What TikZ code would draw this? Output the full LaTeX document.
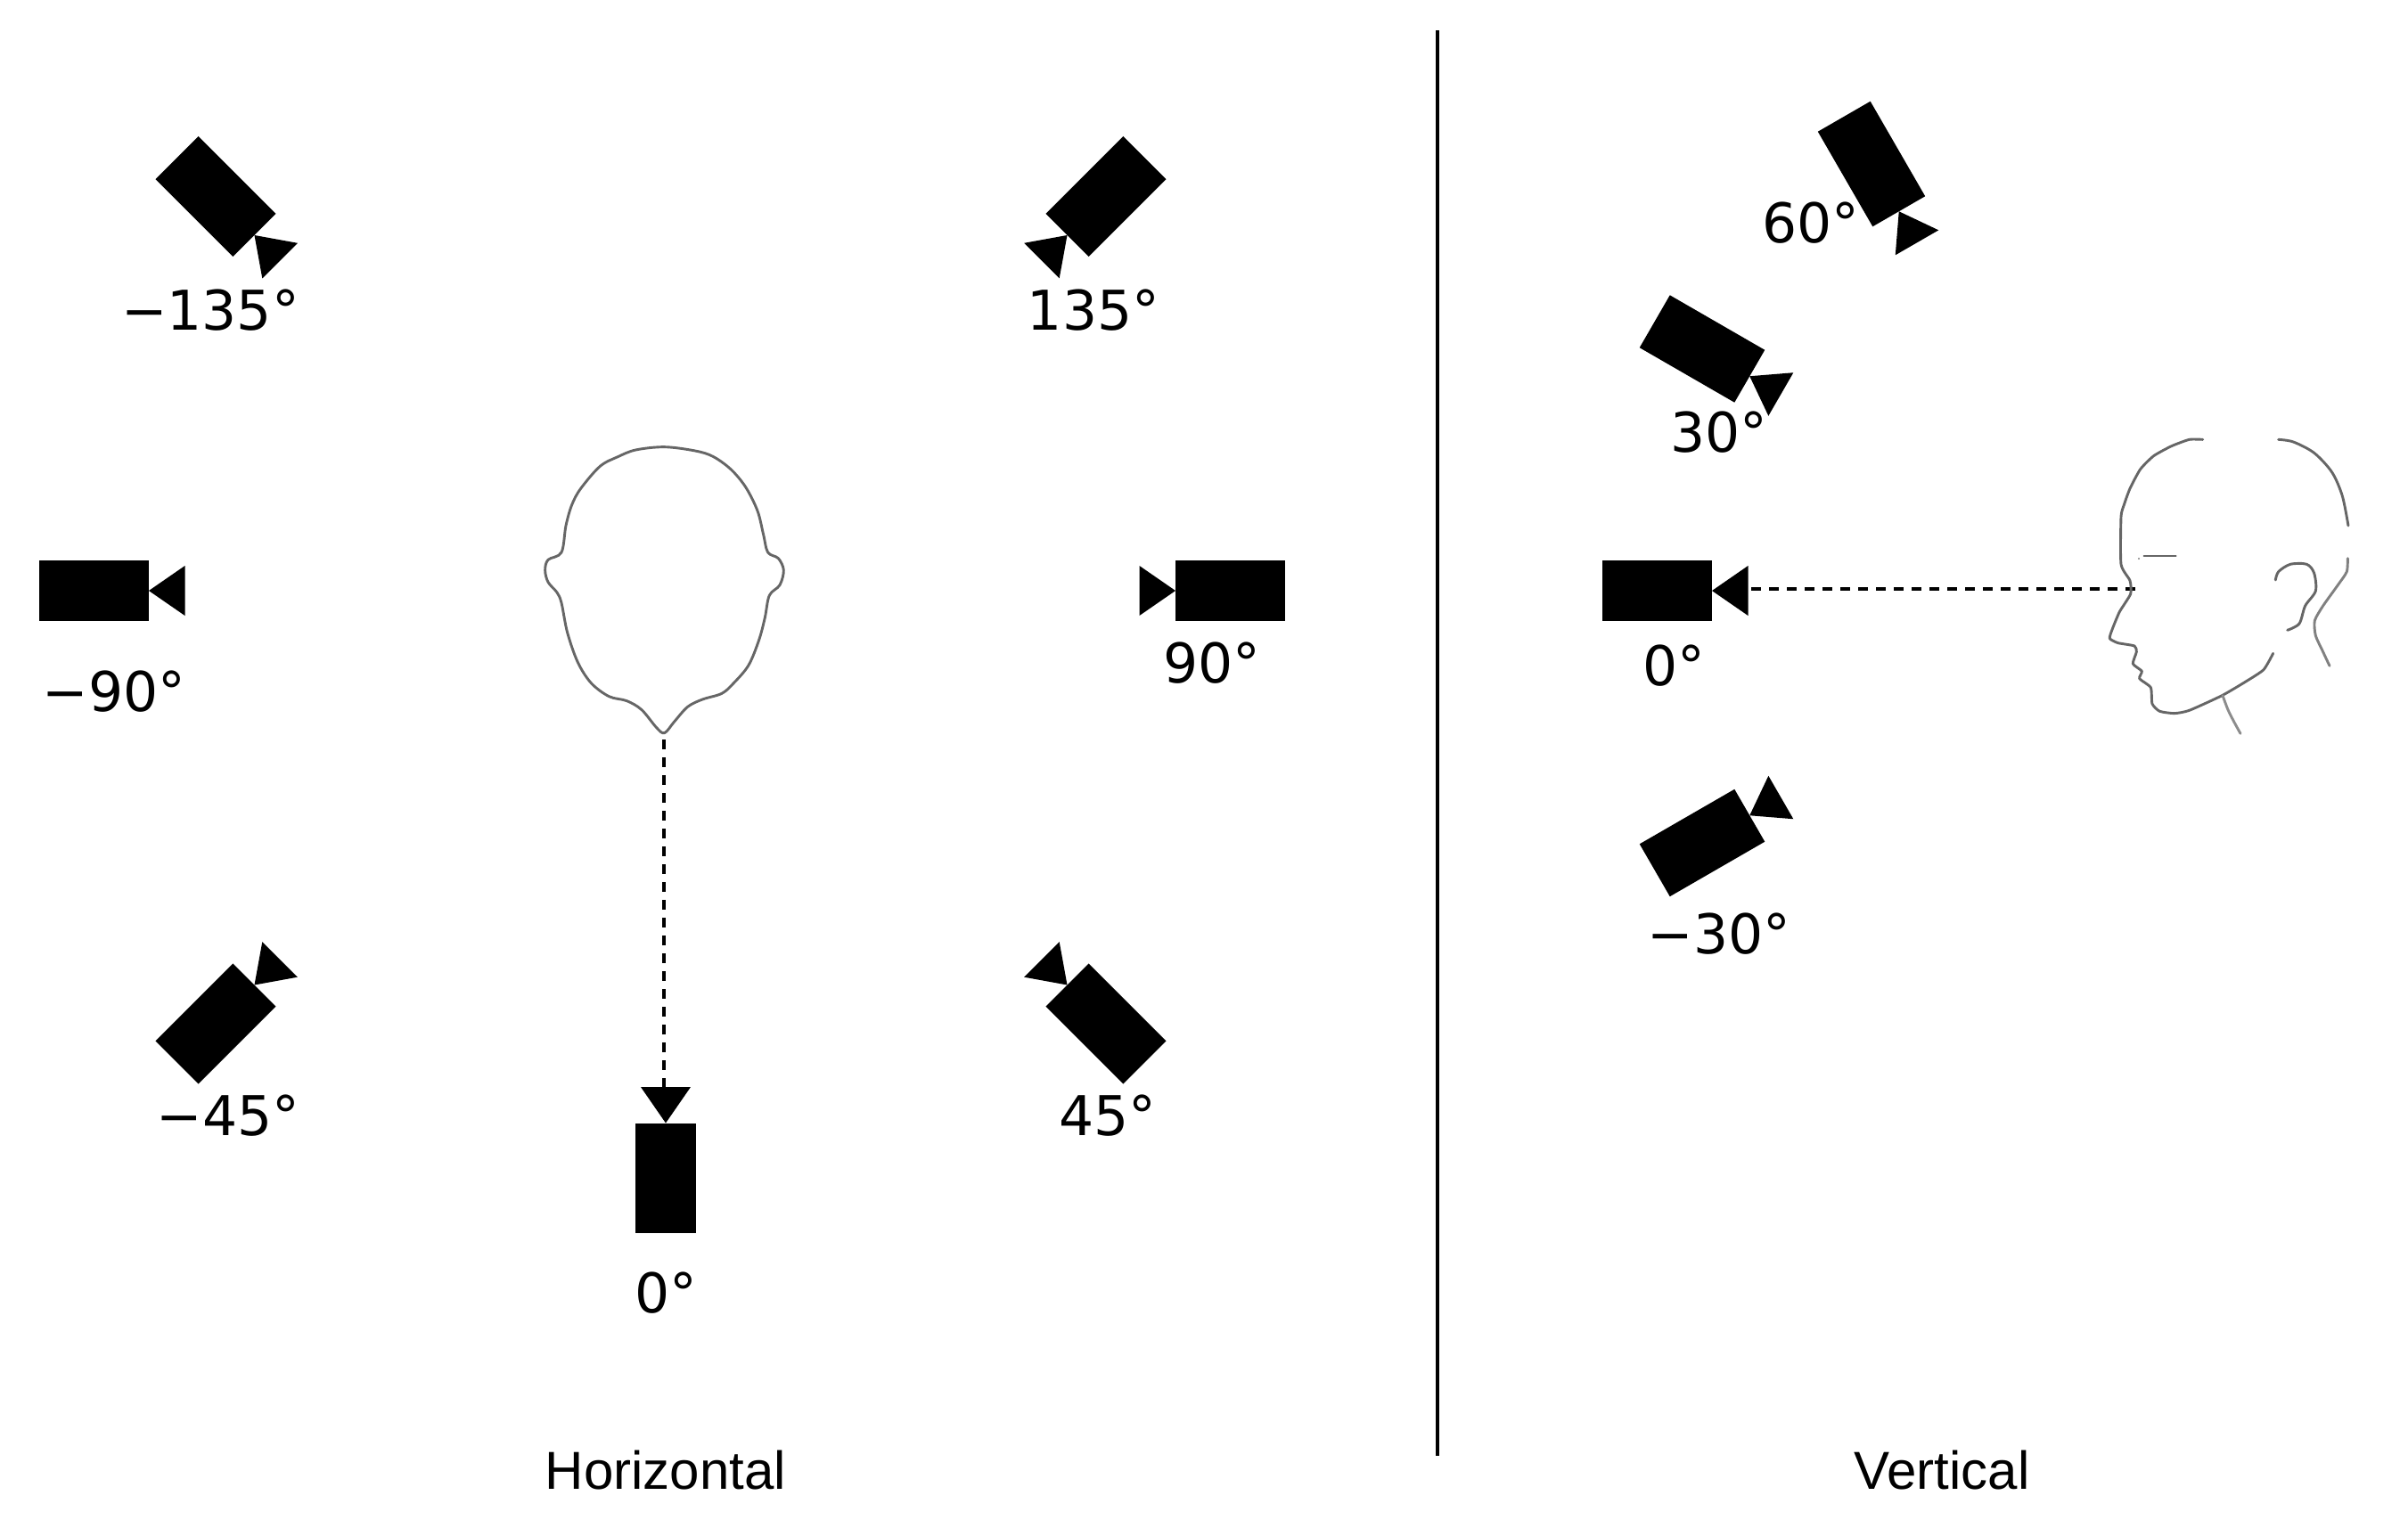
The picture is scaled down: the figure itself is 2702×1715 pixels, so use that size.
\documentclass[tikz,border=0pt]{standalone}
\usepackage{fontspec}
\setmainfont{DejaVu Sans}
\newfontfamily\capfont{Liberation Sans}
\tikzset{
  x=1pt,y=-1pt,
  deg/.style={inner sep=0pt,font=\fontsize{61.5}{62}\selectfont},
  capt/.style={inner sep=0pt,font=\capfont\fontsize{60}{61}\selectfont},
  sketch/.style={draw=black!60,line width=2.9pt,line join=round,line cap=round},
  guide/.style={draw=black,line width=4pt,dash pattern=on 11pt off 9pt},
  pics/camera/.style={code={
    \fill[black] (-61.5,-34) rectangle (61.5,34);
    \fill[black] (61.5,0) -- (102,-28) -- (102,28) -- cycle;
  }}
}
\begin{document}
\begin{tikzpicture}
\useasboundingbox (0,0) rectangle (2702,1715);
\fill[white] (0,0) rectangle (2702,1715);
% cameras, horizontal panel
\pic[rotate=-45] at (242,220.5) {camera};
\pic[rotate=225] at (1241,220.5) {camera};
\pic[rotate=0] at (105.5,663) {camera};
\pic[rotate=180] at (1380.5,663) {camera};
\pic[rotate=45] at (242,1149) {camera};
\pic[rotate=135] at (1241,1149) {camera};
\pic[rotate=90] at (747,1322) {camera};
% cameras, vertical panel
\pic[rotate=-60] at (2100,184) {camera};
\pic[rotate=-30] at (1910,391.5) {camera};
\pic[rotate=0] at (1859.5,663) {camera};
\pic[rotate=30] at (1910,946) {camera};
% labels
\node[deg] (a) at (236,348) {−135°};
\node[deg] (b) at (1227,348) {135°};
\node[deg] (c) at (128,776) {−90°};
\node[deg] (d) at (1360,744) {90°};
\node[deg] (e) at (256,1252) {−45°};
\node[deg] (f) at (1243,1252) {45°};
\node[deg] (g) at (747,1451) {0°};
\node[deg] (h) at (2032,250) {60°};
\node[deg] (i) at (1929,485) {30°};
\node[deg] (j) at (1878,747) {0°};
\node[deg] (k) at (1929,1048) {−30°};
\node[capt] (l) at (747,1650) {Horizontal};
\node[capt] (m) at (2179,1650) {Vertical};
% divider
\coordinate (dt) at (1613,34);
\coordinate (db) at (1613,1634);
\draw[line width=3.4pt] (dt) -- (db);
% dashed sight lines
\coordinate (h1) at (745,830);
\coordinate (h2) at (745,1222);
\draw[guide] (h1) -- (h2);
\coordinate (v1) at (1965,661);
\coordinate (v2) at (2398,661);
\draw[guide] (v1) -- (v2);
% head from above
\begin{scope}[shift={(580,480)},x=0.3333pt,y=-0.3333pt]
\draw[sketch] plot[smooth cycle,tension=0.55] coordinates {(497,65)(600,78)(660,97)(720,140)(770,200)(810,280)(830,360)(845,420)(880,440)(898,480)(885,530)(850,565)(835,640)(815,715)(780,800)(730,860)(690,895)(625,915)(575,940)(530,990)(497,1028)(470,1010)(420,950)(370,920)(310,905)(250,860)(205,790)(170,690)(150,590)(135,555)(105,520)(95,480)(105,445)(150,420)(165,330)(185,260)(215,205)(280,130)(340,98)(400,75)};
\end{scope}
% head in profile
\begin{scope}[shift={(2340,470)},x=0.3333pt,y=-0.3333pt]
\draw[sketch] plot[smooth,tension=0.35] coordinates {(395,70)(350,70)(290,92)(230,125)(185,170)(150,235)(130,290)(120,330)(120,490)(150,545)(152,590)(115,650)(90,710)(82,740)(110,755)(165,765)(172,785)(160,825)(190,850)(182,875)(220,905)(225,960)(250,985)(300,992)(350,982)(460,932)(540,885)(600,845)(632,790)};
\draw[sketch,draw=black!45] plot[smooth,tension=0.4] coordinates {(462,932)(480,980)(500,1020)(522,1060)};
\draw[sketch] plot[smooth,tension=0.5] coordinates {(650,70)(700,78)(770,115)(830,180)(865,260)(885,360)};
\draw[sketch,draw=black!50] plot[smooth,tension=0.4] coordinates {(883,470)(880,515)(850,560)(800,630)(772,680)(775,730)(800,785)(822,832)};
\draw[sketch] plot[smooth,tension=0.5] coordinates {(640,543)(650,515)(690,490)(745,490)(770,520)(775,580)(740,630)(720,690)(680,712)};
\draw[sketch,line width=2pt] (197,462) -- (305,462);
\fill[black!50] (180,471) circle (3.5);
\end{scope}
\end{tikzpicture}
\end{document}
